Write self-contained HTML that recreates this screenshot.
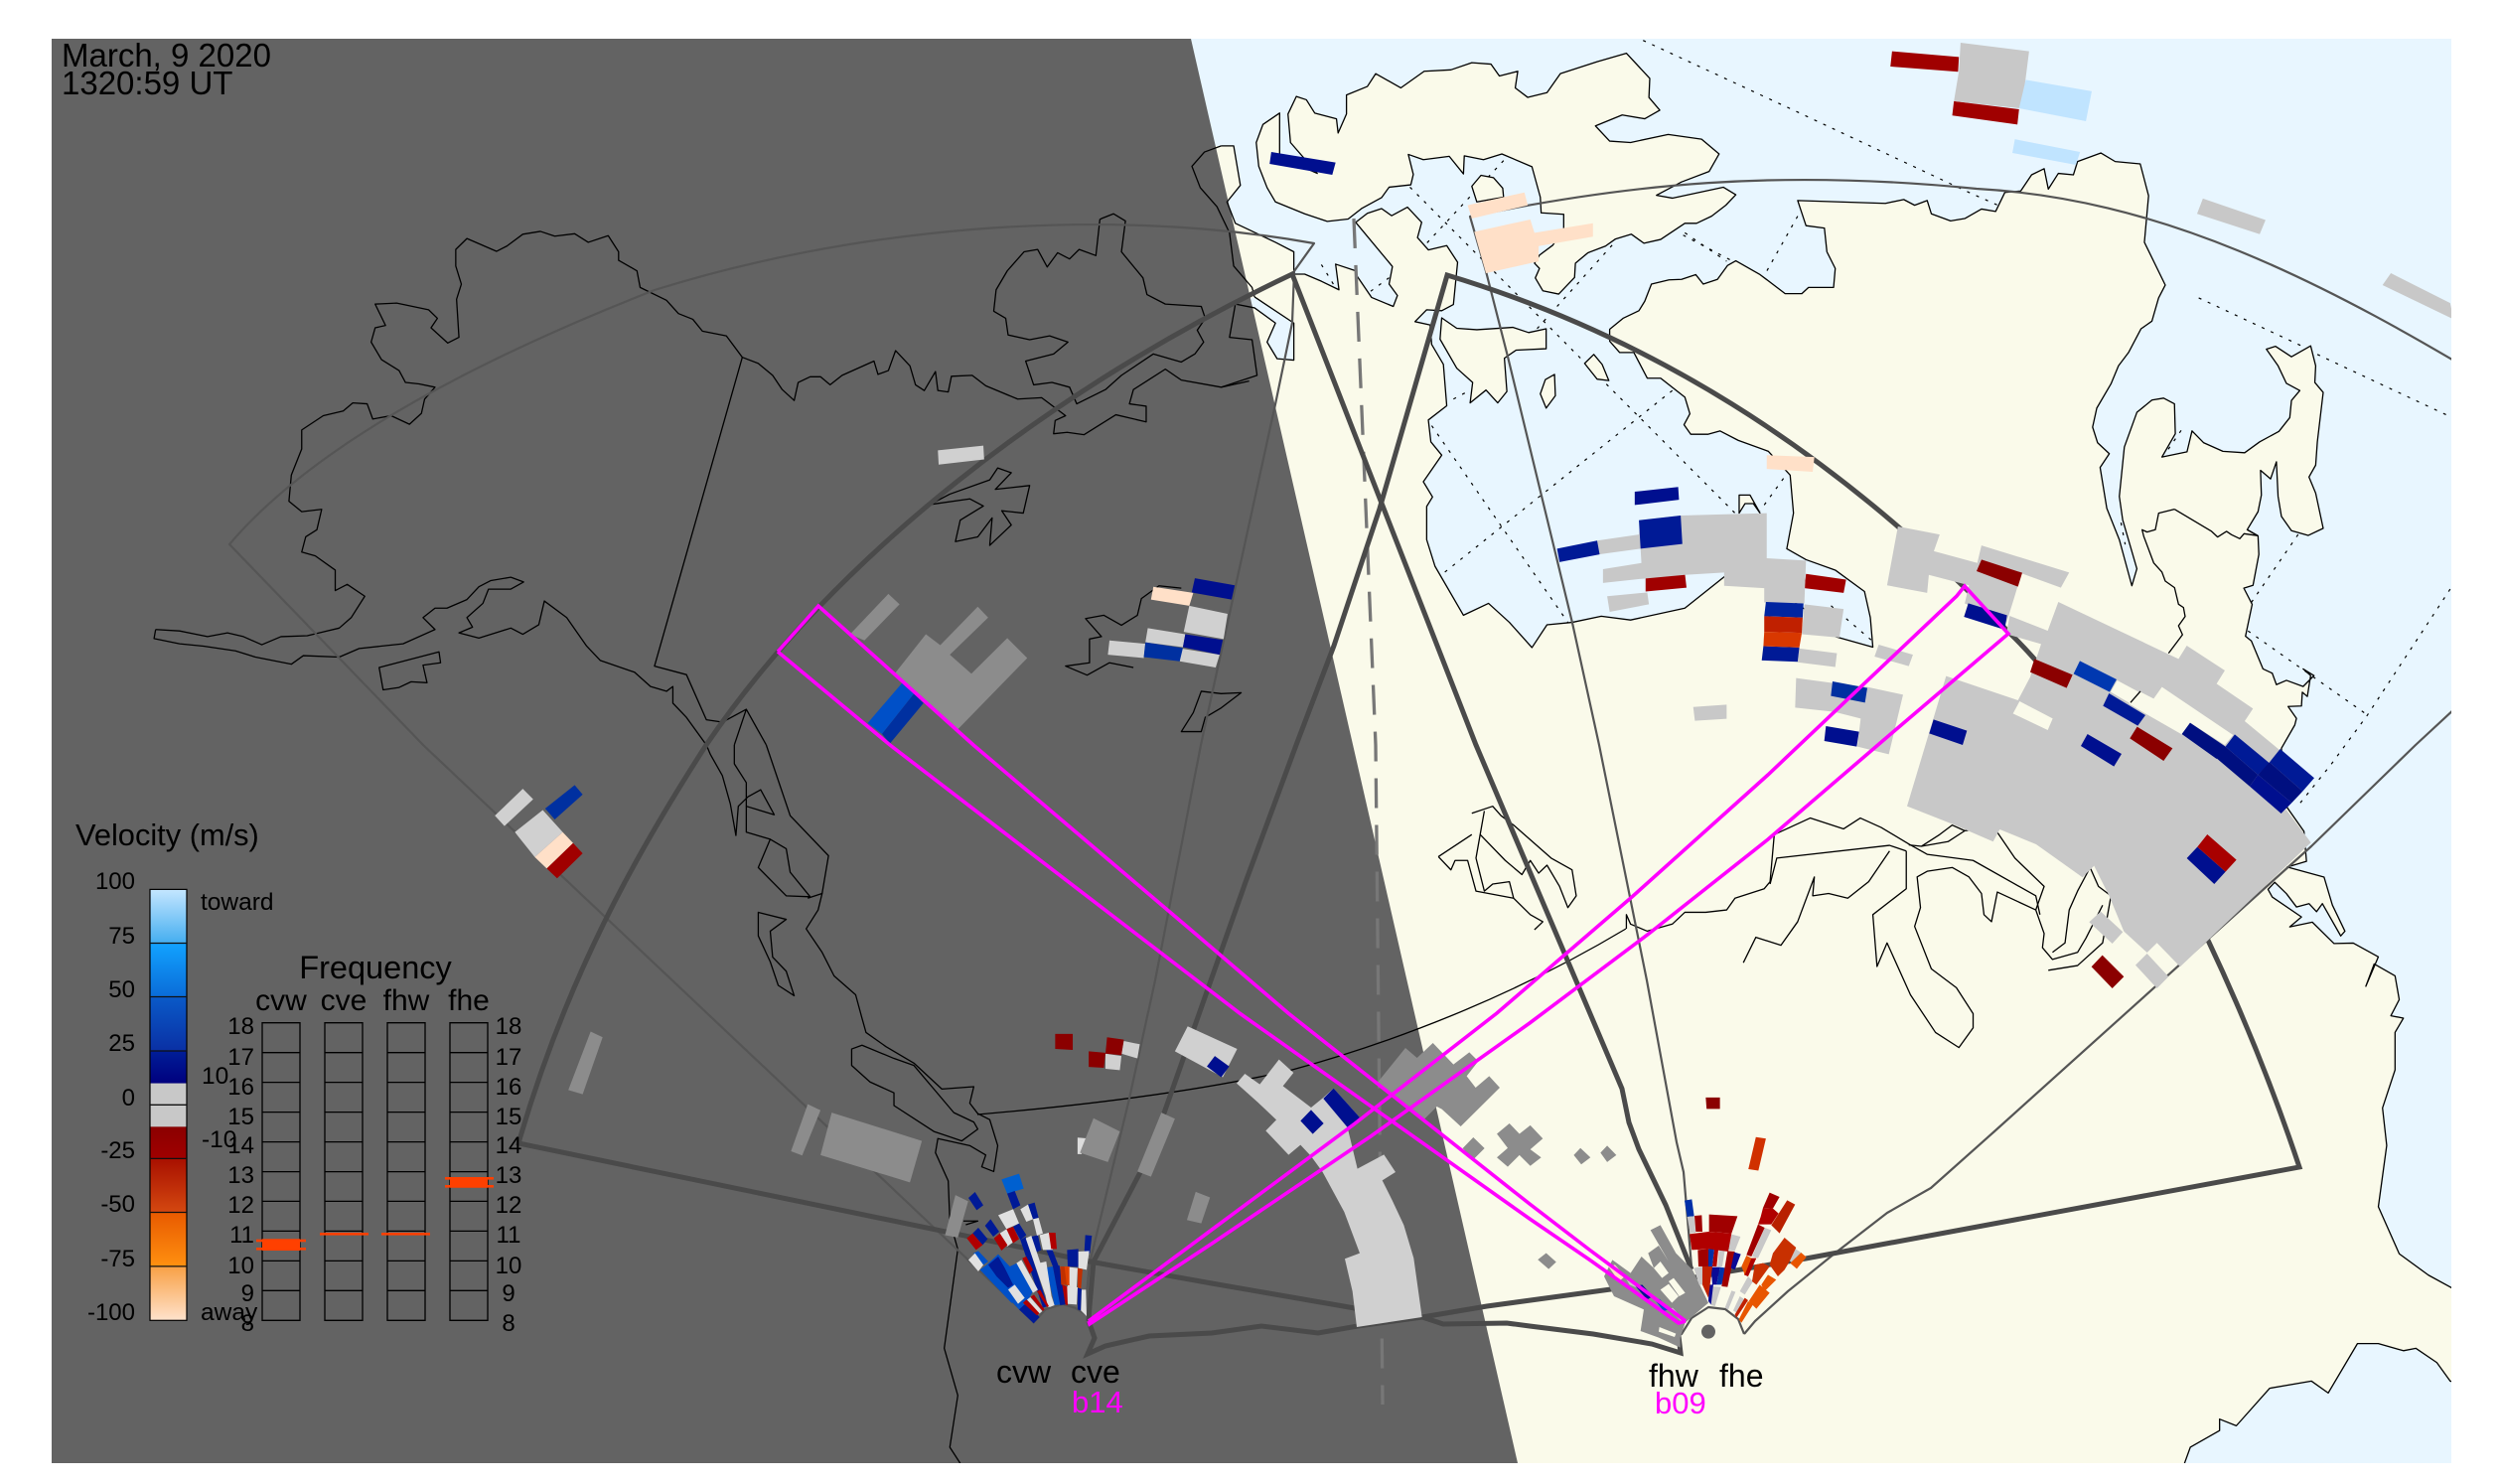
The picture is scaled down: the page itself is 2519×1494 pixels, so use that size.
<!DOCTYPE html>
<html><head><meta charset="utf-8"><title>Velocity map</title>
<style>
html,body{margin:0;padding:0;background:#fff}
svg{display:block}
path,polyline,line{vector-effect:non-scaling-stroke}
text{font-family:"Liberation Sans",sans-serif;fill:#000}
.c{fill:none;stroke:#000;stroke-width:1.3;stroke-linejoin:round}
.g{fill:none;stroke:#000;stroke-width:1.2;stroke-dasharray:3 7}
.t{fill:none;stroke:#4a4a4a;stroke-width:5;stroke-linejoin:miter}
.h{fill:none;stroke:#555;stroke-width:2.2;stroke-linejoin:round}
.m{fill:none;stroke:#f0f;stroke-width:3.6;stroke-linejoin:miter}
.o{fill:#ff4000}
</style></head><body>
<svg xmlns="http://www.w3.org/2000/svg" width="2519" height="1494" viewBox="0 0 2519 1494">
<defs>
<clipPath id="plot"><rect x="52" y="39" width="2416" height="1434"/></clipPath>
<path id="ocean" d="M35 307L50 307 58 390 42 425 52 470 100 510 122 530 122 577 135 577 155 592 176 610 172 556 196 570 198 582 215 626 241 645 246 622 236 598 240 561 196 468 210 449 227 439 239 454 258 436 275 468 270 500 283 526 305 517 318 552 313 641 299 654 281 652 267 677 285 684 287 725 301 767 305 854 283 884 286 930 299 958 277 1014 288 1046 281 1066 281 1136 291 1192 325 1295 355 1270 380 1310 407 1363 425 1315 455 1310 490 1297 525 1305 590 1280 640 1210 690 1230 740 1290 770 1340 815 1362 812 1300 805 1245 770 1200 735 1178 712 1155 720 1080 716 1000 690 950 654 927 632 907 618 914 597 914 589 894 596 871 590 836 561 796 545 796 529 742 512 742 500 718 500 693 516 670 535 654 542 634 550 598 571 589 586 588 603 578 612 598 629 588 641 559 651 549 680 578 710 618 730 618 738 605 768 605 770 565 760 530 757 480 735 475 725 422 830 428 852 420 865 432 880 422 885 450 908 465 925 460 945 440 962 445 973 405 992 402 1005 368 1020 355 1025 398 1037 365 1055 368 1060 340 1088 322 1105 340 1135 345 1145 412 1140 510 1165 600 1157 627 1149 676 1136 692 1121 742 1109 770 1100 808 1083 859 1078 899 1084 932 1098 955 1087 984 1095 1070 1110 1136 1125 1233 1131 1197 1114 1094 1110 1045 1116 941 1131 868 1149 842 1163 838 1176 850 1177 913 1161 962 1191 951 1197 907 1211 932 1234 950 1260 953 1278 930 1301 908 1314 879 1316 843 1326 822 1310 807 1300 770 1286 735 1297 729 1316 751 1339 728 1345 770 1344 805 1354 826 1347 930 1345 979 1337 1004 1345 1038 1354 1112 1336 1127 1316 1117 1304 1087 1300 1045 1298 972 1291 1008 1279 990 1280 1042 1276 1077 1263 1115 1276 1128 1277 1167 1270 1232 1259 1238 1269 1272 1261 1339 1268 1349 1282 1408 1293 1417 1298 1441 1310 1432 1330 1445 1343 1422 1330 1408 1339 1422 1335 1466 1329 1457 1328 1486 1312 1487 1322 1512 1320 1526 1304 1575 1306 1630 1311 1700 1331 1750 1334 1813 1311 1825 1355 1846 1365 1905 1380 1960 1375 1970 1353 1902 1346 1919 1337 1902 1322 1909 1310 1881 1296 1857 1288 1872 1293 1888 1328 1930 1314 1951 1341 1941 1367 1986 1390 1985 1420 2014 1405 2076 1415 2029 1440 2054 1445 2104 1435 2138 1450 2143 1440 2173 1440 2252 1425 2332 1430 2411 1420 2540 1445 2639 1480 2684 1506 2709 1600 2808 1700 2808 1700 -100 -20 -100"/>
<path id="ocean2" d="M75 625L122 680 122 758 102 755 90 720 100 680 75 648 52 640"/>
<path id="ocean3" d="M1188 3100L1188 3080 1195 3046 1230 3011 1230 2987 1250 3001 1290 2922 1340 2907 1360 2932 1395 2828 1420 2828 1450 2843 1465 2838 1490 2868 1506 2907 1700 3000 1700 3100"/>
<g id="islands">
<path d="M105 238L85 262 77 300 80 350 90 395 100 425 135 450 162 466 187 461 203 439 227 416 236 394 262 389 265 367 259 325 277 336 308 329 325 366 326 328 349 336 371 324 407 351 417 415 418 448 445 451 445 481 432 516 416 537 410 554 416 565 411 585 420 612 439 619 458 584 459 554 474 532 495 518 507 503 526 493 541 512 561 504 590 470 604 470 622 455 639 432 651 410 636 394 575 417 556 411 586 383 619 361 631 324 610 293 570 283 525 300 500 297 483 265 515 242 542 250 560 232 547 205 548 165 520 112 485 130 441 155 425 195 402 205 387 185 390 150 368 160 358 135 335 132 310 147 278 150 250 185 220 155 210 182 185 200 185 240 175 280 173 250 147 238 137 210 125 203 115 240 118 300 150 365 105 330Z"/>
<path d="M299 669L317 691 341 694 384 689 403 700 424 692 424 734 388 737 374 754 377 824 366 848 352 821 333 848 336 805 317 775 297 714Z"/>
<path d="M470 765L481 746 491 767 499 801 485 798Z"/>
<path d="M423 799L434 788 435 833 424 859 417 829Z"/>
<path d="M335 392L346 369 361 374 372 396 373 415 341 425Z"/>
<path d="M655 1080L655 1042 668 1042 680 1080 672 1060 662 1060Z"/>
</g>
<linearGradient id="b1" x1="0" y1="0" x2="0" y2="1"><stop offset="0" stop-color="#c4e6ff"/><stop offset="1" stop-color="#45aef0"/></linearGradient>
<linearGradient id="b2" x1="0" y1="0" x2="0" y2="1"><stop offset="0" stop-color="#12a2ff"/><stop offset="1" stop-color="#0a6cd8"/></linearGradient>
<linearGradient id="b3" x1="0" y1="0" x2="0" y2="1"><stop offset="0" stop-color="#0a5ac8"/><stop offset="1" stop-color="#0a30a4"/></linearGradient>
<linearGradient id="b4" x1="0" y1="0" x2="0" y2="1"><stop offset="0" stop-color="#001e98"/><stop offset="1" stop-color="#00007e"/></linearGradient>
<linearGradient id="r1" x1="0" y1="0" x2="0" y2="1"><stop offset="0" stop-color="#8b0000"/><stop offset="1" stop-color="#a00000"/></linearGradient>
<linearGradient id="r2" x1="0" y1="0" x2="0" y2="1"><stop offset="0" stop-color="#a81000"/><stop offset="1" stop-color="#d44810"/></linearGradient>
<linearGradient id="r3" x1="0" y1="0" x2="0" y2="1"><stop offset="0" stop-color="#e85a00"/><stop offset="1" stop-color="#ff9010"/></linearGradient>
<linearGradient id="r4" x1="0" y1="0" x2="0" y2="1"><stop offset="0" stop-color="#f8a045"/><stop offset="1" stop-color="#ffe2cc"/></linearGradient>
</defs>

<g clip-path="url(#plot)">
<rect x="52" y="39" width="2416" height="1434" fill="#fafaea"/>
<g transform="translate(1200,0) scale(.8412,.4783)">
<clipPath id="oc"><use href="#ocean"/></clipPath>
<use href="#ocean" fill="#e8f6ff" stroke="none"/>
<use href="#ocean2" fill="#e8f6ff" stroke="none"/>
<use href="#ocean3" fill="#e8f6ff" stroke="none"/>
<polygon points="-80,-100 60,-100 35,307 0,307" fill="#e8f6ff"/>
<g clip-path="url(#oc)">
<path class="g" d="M261 394L654 1087M373 338L281 512M503 516L412 694M575 822L295 1215M287 896L450 1310M588 495L680 580M155 557L170 600M214 613L238 582M313 840L328 826M540 85L730 240 930 405 975 440M590 490L640 550M725 455L685 580M715 990L680 1075M1205 627L1328 728M1347 746L1506 877M1324 1125L1268 1268M1264 1328L1407 1505M1506 1240L1407 1505 1363 1610 1322 1700M1184 906L1165 955M1112 1100L1117 1146M765 1275L815 1350"/>
</g>
<use href="#islands" fill="#fafaea" stroke="none"/>
</g>

<polygon points="52,39 1199,39 1528,1473 52,1473" fill="#636363"/>

<g transform="translate(1200,0) scale(.8412,.4783)">
<use href="#ocean" class="c"/>
<use href="#ocean2" class="c"/>
<use href="#ocean3" class="c"/>
<use href="#islands" class="c"/>
<path class="c" d="M35 307L15 320 0 350 10 395 30 435 45 490 50 560 72 605 75 625M52 640L45 710 72 715 78 790 35 815"/>
</g>

<!-- west coast upper -->
<g transform="scale(.8036,.4783)">
<path class="c" d="M195 1325L193 1344 225 1355 255 1360 295 1370 320 1383 365 1398 380 1380 425 1383 450 1365 505 1355 545 1325 530 1300 545 1280 560 1280 585 1262 600 1235 615 1222 640 1215 656 1225 640 1240 612 1240 605 1270 585 1300 592 1320 575 1332 600 1343 640 1322 655 1335 675 1315 682 1265 710 1300 735 1360 752 1390 795 1415 815 1445 835 1455 843 1445 843 1480 860 1510 885 1568"/>
<path class="c" d="M195 1325L225 1328 260 1340 285 1332 305 1340 328 1357 352 1340 385 1338 425 1322 440 1300 457 1255 435 1230 420 1243 420 1200 395 1170 378 1162 383 1130 397 1115 403 1072 378 1077 362 1055 365 1000 378 945 378 905 405 875 430 865 442 848 460 850 467 882 490 875 513 893 528 870 532 840 545 815 525 808 508 805 500 780 478 757 465 720 470 690 483 685 470 640 497 638 537 652 548 670 540 690 561 722 575 710 572 630 578 598 571 560 571 525 585 502 622 529 635 518 655 493 677 487 695 497 720 492 737 510 762 496 775 530 775 548 798 570 802 605 835 632 850 660 868 672 880 697 910 707 930 752 950 765 968 790 980 820 995 843 1000 805 1015 793 1028 793 1040 810 1055 790 1095 760 1100 788 1113 780 1122 738 1140 770 1147 810 1158 822 1172 782 1175 822 1188 825 1192 792 1218 790 1235 812 1275 840 1305 837 1335 875 1322 885 1320 913 1337 910 1358 915 1398 873 1436 888 1436 855 1415 850 1420 820 1460 777 1480 800 1530 815 1565 802"/>
<path class="c" d="M930 752L820 1402 860 1420 885 1515 905 1520 935 1493 960 1568M935 1493L920 1568"/>
<path class="c" d="M475 1405L550 1372 552 1395 530 1400 535 1437 515 1435 500 1447 480 1452Z"/>
<path class="c" d="M1380 460L1395 450 1410 465 1405 530 1432 585 1437 620 1460 640 1505 645 1510 670 1500 695 1508 720 1497 745 1480 762 1445 745 1405 790 1385 820 1349 850 1340 815 1318 805 1295 810 1285 760 1320 745 1338 720 1315 707 1290 715 1263 705 1260 670 1245 655 1248 610 1262 570 1283 530 1300 525 1312 562 1325 532 1340 545 1352 525 1373 538 1378 462Z"/>
<path class="c" d="M1250 985L1267 995 1247 1030 1290 1022 1282 1080 1255 1075 1267 1105 1240 1148 1243 1090 1225 1130 1197 1140 1203 1095 1232 1065 1215 1050 1165 1062 1190 1040 1240 1010Z"/>
<path class="c" d="M1480 1238L1452 1233 1430 1260 1425 1295 1405 1316 1383 1295 1360 1302 1380 1340 1365 1345 1365 1395 1335 1402 1362 1421 1390 1395 1420 1405"/>
<path class="c" d="M1480 1540L1495 1500 1505 1455 1530 1460 1555 1458 1530 1490 1510 1510 1505 1540Z"/>
</g>
<!-- west coast lower -->
<g transform="translate(0,750) scale(.8036,.4745)">
<path class="c" d="M885 0L890 20 905 65 915 125 922 192 925 130 937 110 953 95 970 148 935 130 935 185 965 200"/>
<path class="c" d="M920 0L920 40 935 80 935 130M960 0L968 40 990 150 1038 235 1030 315 1012 325"/>
<path class="c" d="M965 200L985 220 990 270 1015 322 985 320 950 260Z"/>
<path class="c" d="M1030 315L1025 350 1010 390 1030 440 1045 490 1072 530 1080 580 1085 610 1110 640 1145 675 1180 730 1220 725 1215 760 1225 782 1240 795 1250 850 1245 905 1230 895 1235 870 1215 850 1175 835 1172 865 1188 925 1190 1010 1200 1070 1183 1280 1200 1380 1190 1490 1203 1524"/>
<path class="c" d="M950 355L985 370 965 395 968 450 985 480 995 532 975 510 965 460 950 405Z"/>
<path class="c" d="M1067 645L1080 637 1120 665 1145 680 1170 730 1195 780 1220 800 1225 815 1205 840 1170 820 1120 765 1120 738 1090 715 1067 680Z"/>
<path class="c" d="M1207 1010L1225 1010 1210 1018"/>
</g>
<!-- border and great lakes -->
<path class="c" d="M984 1122C1100 1112 1210 1098 1301 1077C1400 1050 1520 1005 1637 935"/>
<g transform="translate(1200,750) scale(.8412,.4745)">
<path class="c" d="M520 390L520 360 525 380 545 395 575 380 590 355 615 355 640 350 650 325 685 305 692 290 697 190 740 155 780 178 800 155 825 175 858 210 880 232 935 245 1010 320 1015 360"/>
<path class="c" d="M692 295L700 240 835 213 855 225M660 462L675 408 705 425 725 375 745 280 743 320 762 315 785 325 810 290 835 225"/>
<path class="c" d="M858 212L873 215 905 205 925 182 910 170 895 190 873 215"/>
<path class="c" d="M855 225L855 305 815 360 820 470 832 420 860 530 890 610 918 642 935 600 935 570 915 515 885 475 865 385 872 345 868 280 880 268 910 260 930 280 945 315 948 360 957 375 964 312 1010 350 1020 400 1018 430 1030 455 1060 440 1070 410 1090 340"/>
<path class="c" d="M925 182L960 175 985 240 1020 300 1010 350M1025 478L1060 468 1090 420 1100 320 1085 300 1075 260 1060 310 1050 350 1045 420 1030 440"/>
<path class="c" d="M335 145L360 130 370 150 385 170 430 240 455 265 460 320 450 345 440 300 425 255 415 272 405 245 395 275 375 245 345 190 350 140"/>
<path class="c" d="M295 237L310 265 315 245 330 245 340 310 385 325 380 290 360 295 350 310 340 240 345 190M295 237L335 190M385 325L405 360 420 375 410 392"/>
</g>
<g transform="translate(2050,300) scale(.3333)">
<path class="c" d="M638 700L670 718M418 638L370 650 360 700 335 707 320 700 325 720 355 800 380 828 390 855 418 875 430 925 445 935 450 962 430 990 442 1017 400 1073M418 638L530 705 548 722 575 705 590 715 615 727 628 712 670 718"/>
</g>

<!-- dashed line -->
<polyline fill="none" stroke="#777" stroke-width="3.3" stroke-dasharray="30 17" points="1363,220 1385,750 1392,1414"/>

<!-- FOV outlines -->
<path class="h" d="M1041 1331L968 1262 426 750 231 548C310 455 460 370 659 292C850 232 1100 205 1323 245L1303 273 1301 325 1284 407 1209 750 1163 987 1137 1106 1097 1272 1092 1323"/>
<polyline class="h" points="1040,1332 1053,1318 1070,1313 1083,1317 1093,1323"/>
<polyline class="h" points="1756,1343 1767,1330 1800,1300 1847,1262 1900,1221 1944,1196 2008,1139 2327,852 2432,750 2540,650"/>
<path class="h" d="M2540 405C2330 275 2170 200 1990 190C1790 170 1640 185 1480 218L1496 273 1518 359 1583 627 1610 750 1658 987 1688 1150 1695 1180 1703 1275"/>
<polyline class="h" points="1690,1345 1693,1343 1703,1327 1720,1316 1737,1318 1750,1328 1756,1343"/>
<path class="t" d="M1690 1345L1692 1362 1663 1353 1604 1343 1540 1335 1517 1332 1453 1333 1432 1326 1364 1317 1220 1292 1097 1270 522 1151C570 985 640 860 711 750C840 560 1060 390 1301 276L1486 750 1633 1096 1640 1130 1650 1157 1677 1213 1703 1278"/>
<path class="t" d="M1096 1330L1102 1347 1095 1363 1113 1355 1157 1345 1220 1342 1270 1335 1327 1342 1367 1335 1432 1326 1497 1315 1688 1289 1818 1267 2315 1175C2240 950 2120 730 2023 637C1840 445 1650 335 1457 277L1389 512 1343 650 1305 750 1254 888 1157 1163 1101 1270 1097 1315 1096 1330"/>

<!-- data cells: Z1 -->
<g transform="scale(.8036,.4783)">
<path fill="#d0d0d0" d="M1175 948L1232 938 1233 967 1176 978ZM1490 1275L1538 1292 1533 1345 1483 1330ZM1438 1322L1485 1335 1482 1362 1435 1352ZM1390 1348L1435 1355 1433 1385 1388 1378ZM1480 1365L1528 1378 1523 1405 1478 1392Z"/>
<path fill="#8c8c8c" d="M1113 1250L1127 1272 1083 1348 1065 1335ZM1120 1420L1160 1335 1178 1358 1225 1277 1238 1300 1190 1378 1217 1418 1262 1343 1287 1385 1200 1535 1157 1470Z"/>
<path fill="#0050c8" d="M1130 1438L1145 1460 1105 1545 1087 1522Z"/>
<path fill="#0030a0" d="M1145 1460L1157 1480 1115 1565 1105 1545ZM1435 1352L1482 1364 1478 1392 1433 1383Z"/>
<path fill="#000f8f" d="M1497 1217L1547 1232 1543 1262 1493 1247ZM1485 1335L1532 1347 1528 1378 1482 1362Z"/>
<path fill="#ffe0c8" d="M1445 1235L1495 1248 1490 1275 1442 1262Z"/>
</g>
<!-- Z3 -->
<g transform="translate(0,750) scale(.8036,.4745)">
<path fill="#d0d0d0" d="M655 93L668 115 632 172 620 150ZM680 138L705 185 670 238 645 185ZM1488 597L1550 645 1532 705 1472 650ZM1408 628L1428 635 1425 665 1405 655ZM1385 655L1405 660 1403 690 1385 687Z"/>
<path fill="#0030a0" d="M720 85L730 105 695 158 683 135Z"/>
<path fill="#ffe0c8" d="M705 185L718 208 685 262 670 238Z"/>
<path fill="#a00000" d="M718 208L730 230 698 283 685 262Z"/>
<path fill="#ddd" d="M1350 833L1365 835 1355 868 1350 868Z"/>
<path fill="#8c8c8c" d="M740 608L755 620 730 741 712 732ZM1012 762L1028 775 1005 871 991 862ZM1042 780L1155 840 1140 928 1028 870ZM1197 955L1213 968 1200 1045 1184 1040ZM1370 792L1403 820 1388 885 1353 865ZM1455 780L1472 793 1442 916 1425 905ZM1498 948L1516 960 1505 1015 1487 1008Z"/>
<path fill="#8b0000" d="M1322 613L1344 613 1344 647 1322 645ZM1387 620L1408 625 1405 658 1385 655ZM1364 650L1385 653 1383 685 1364 683Z"/>
<path fill="#000f8f" d="M1522 660L1540 682 1530 705 1512 682Z"/>
</g>
<!-- arc band in dark region -->
<g transform="translate(1220,1020) scale(.3333)">
<path fill="#d0d0d0" d="M75 212L100 183 145 215 203 140 247 180 215 220 300 285 337 255 368 227 447 315 410 345 440 470 520 427 555 480 515 505 545 565 580 640 610 740 635 918 438 948 425 840 402 742 447 725 400 600 335 480 300 432 268 398 232 428 163 355 195 322 140 270Z"/>
<path fill="#000f8f" d="M368 227L447 315 410 345 337 258ZM300 292L338 333 305 365 268 325Z"/>
<path fill="#8c8c8c" d="M500 210L585 105 620 135 668 90 730 155 778 118 805 145 770 190 797 225 838 190 870 225 752 342 695 290 680 282 640 322 545 245ZM790 375L824 408 790 442 758 408Z"/>
</g>
<!-- Z4 -->
<g transform="translate(1200,750) scale(.8412,.4745)">
<path fill="#8c8c8c" d="M380 803L392 825 405 807 420 835 405 858 418 875 405 893 392 870 378 895 365 875 378 855 365 825ZM465 855L477 875 466 890 457 870ZM497 850L508 870 497 885 489 865ZM424 1078L436 1097 427 1112 414 1092Z"/>
<path fill="#8b0000" d="M615 748L632 748 632 772 616 772Z"/>
<path fill="#d03000" d="M675 832L687 835 678 903 666 900Z"/>
</g>
<!-- Z2 -->
<g transform="translate(1200,0) scale(.8412,.4783)">
<path fill="#000f8f" d="M95 320L172 342 168 368 93 345ZM530 1035L582 1025 583 1052 530 1063Z"/>
<path fill="#ffe0c8" d="M330 432L398 405 402 432 335 460ZM338 488L405 462 410 490 480 470 480 498 415 518 415 550 352 575ZM688 958L745 962 743 993 688 987Z"/>
<path fill="#a00000" d="M838 108L918 120 917 151 836 140ZM912 213L990 230 988 262 910 243ZM543 1217L590 1207 592 1237 543 1245ZM735 1208L783 1220 780 1248 733 1238Z"/>
<path fill="#c8c8c8" d="M920 90L1002 108 995 205 990 228 912 213 918 150ZM1210 418L1285 463 1278 493 1203 450ZM1435 575L1506 638 1510 672 1425 600ZM537 1095L585 1085 688 1080 688 1175 735 1180 733 1270 685 1268 685 1238 637 1233 637 1205 590 1210 540 1218 492 1227 492 1198 538 1185 537 1155 487 1167 485 1138 535 1125ZM497 1255L545 1247 547 1272 500 1288ZM733 1272L780 1282 775 1342 730 1335ZM727 1365L772 1375 770 1404 725 1394ZM822 1357L863 1378 858 1402 817 1382ZM600 1488L640 1483 640 1513 602 1517ZM845 1108L895 1125 888 1160 940 1185 945 1148 1050 1205 1040 1237 993 1207 983 1265 975 1310 925 1270 930 1232 882 1210 880 1248 832 1232Z"/>
<path fill="#c0e4ff" d="M998 168L1077 192 1070 255 990 228ZM985 293L1063 320 1058 347 982 322Z"/>
<path fill="#001a96" d="M437 1155L485 1138 488 1167 440 1183ZM535 1095L585 1085 587 1145 537 1155ZM684 1360L727 1363 725 1393 682 1390Z"/>
<path fill="#0025a0" d="M687 1267L732 1270 731 1300 685 1297Z"/>
<path fill="#c02000" d="M685 1297L731 1300 730 1332 685 1330Z"/>
<path fill="#d83800" d="M685 1330L730 1332 727 1363 684 1360Z"/>
</g>
<!-- cluster near beam -->
<g transform="translate(1780,600) scale(.3333)">
<path fill="#c8c8c8" d="M85 248L190 262 300 275 408 298 365 478 270 455 280 370 200 350 82 337Z"/>
<path fill="#0030a0" d="M195 258L300 278 293 322 190 302Z"/>
<path fill="#000f8f" d="M175 393L275 410 268 455 170 438Z"/>
</g>
<!-- Z8 east region -->
<g transform="translate(1900,560) scale(.3333)">
<path fill="#c8c8c8" d="M178 362L395 435 432 365 465 265 360 235 370 180 485 225 517 138 880 310 905 270 1020 345 995 385 1105 460 1080 498 1185 585 1290 670 1190 775 1205 765 1280 865 885 1240 815 1168 785 1197 715 1133 670 1025 625 935 590 970 450 870 340 825 320 862 200 810 60 755ZM645 1073L712 1135 680 1170 610 1105ZM750 1235L785 1200 850 1270 815 1305Z"/>
<path fill="#fafaea" d="M695 375L760 410 735 445 675 410ZM730 445L765 410 805 430 830 395 1045 540 1020 570 915 503 890 538 780 475ZM400 438L500 490 485 525 380 475Z"/>
<path class="c" d="M735 442L765 408"/>
<path fill="#8b0000" d="M270 45L285 10 408 50 395 92ZM445 310L560 358 542 398 432 350ZM755 515L862 580 835 618 733 550ZM650 1205L715 1270 680 1305 617 1240Z"/>
<path fill="#000f8f" d="M245 142L362 178 355 222 232 183ZM140 493L241 527 228 570 127 535ZM605 537L708 597 685 635 585 573ZM1120 660L1222 745 1190 777 1095 695ZM937 878L1022 953 988 990 905 912Z"/>
<path fill="#0038b0" d="M582 316L693 372 672 410 563 355Z"/>
<path fill="#001a96" d="M670 414L780 480 757 512 652 452ZM1050 538L1155 625 1120 660 1022 575ZM1187 582L1290 670 1255 710 1155 622Z"/>
<path fill="#000f80" d="M915 503L1022 575 995 612 890 537ZM1022 575L1120 660 1095 695 995 610ZM1155 622L1255 710 1222 745 1120 660Z"/>
<path fill="#a80000" d="M967 840L1055 917 1022 953 937 878Z"/>
</g>

<!-- cvw / cve fan -->
<g transform="translate(940,1130) scale(.3333)">
<path fill="#0050c8" d="M140 445L160 430 195 398 230 435 262 420 300 510 280 545 235 545ZM120 395L135 388 165 420 150 430ZM235 540L255 525 285 565 258 565ZM340 438L360 435 382 550 365 552Z"/>
<path fill="#0060d0" d="M205 172L258 155 272 200 222 215Z"/>
<path fill="#001a96" d="M222 215L245 207 262 250 240 262ZM105 228L125 210 150 250 130 265ZM285 248L305 242 317 288 300 292ZM155 312L172 292 198 330 180 345ZM118 335L135 318 163 352 148 370ZM240 315L258 305 280 340 262 355ZM165 430L195 405 215 440 190 465ZM190 465L215 440 240 490 225 500ZM258 565L280 545 320 588 302 607ZM295 345L315 340 325 385 305 395ZM403 385L437 382 437 437 405 435ZM458 340L478 342 472 395 455 392ZM360 435L380 432 398 550 382 552ZM340 385L358 383 378 435 360 435ZM435 500L447 503 444 568 435 565ZM262 355L278 345 345 555 330 560Z"/>
<path fill="#e0e0e0" d="M105 415L125 395 150 430 135 450ZM195 280L240 262 258 305 220 322ZM262 262L285 248 300 292 280 300ZM300 292L317 288 330 335 312 342ZM200 335L220 322 240 362 222 375ZM320 340L348 333 360 385 330 385ZM225 505L245 490 275 530 255 548ZM278 350L295 342 365 552 350 558ZM318 425L340 420 360 552 345 558ZM437 390L470 388 462 445 437 440ZM408 437L435 440 432 498 405 495ZM402 495L435 498 432 550 402 548ZM447 505L460 505 462 585 445 568ZM250 425L265 415 315 505 300 515Z"/>
<path fill="#b00000" d="M100 350L118 335 148 370 128 385ZM182 350L200 335 223 370 205 387ZM220 322L240 315 258 352 240 365ZM348 333L368 333 372 382 355 382ZM268 410L280 405 300 445 290 458ZM270 545L280 535 320 575 312 583ZM293 527L303 520 335 565 330 570ZM312 510L322 505 348 555 342 558ZM388 490L403 495 405 552 398 550Z"/>
<path fill="#c03000" d="M382 435L395 435 410 492 385 490ZM435 440L450 443 445 502 435 498Z"/>
<path fill="#e04000" d="M395 435L410 435 410 492 402 490Z"/>
<path fill="#e0e0e0" d="M282 535L292 528 328 570 320 577Z"/>
</g>

<!-- fhw / fhe fan -->
<g transform="translate(1600,1130) scale(.3333)">
<path fill="#8c8c8c" d="M75 525L45 465 70 415 125 455 158 405 195 440 178 395 210 372 240 420 185 325 215 310 262 395 312 445 360 545 290 605 275 650 275 680 210 650 155 630 165 565Z"/>
<path fill="#fafaea" d="M215 505L240 488 270 525 250 545ZM240 480L255 470 290 515 272 525ZM212 618L262 638 258 648 210 632ZM195 440L215 420 240 455 220 470Z"/>
<path fill="#ffe0c8" d="M58 435L78 430 108 465 90 480Z"/>
<path fill="#c8c8c8" d="M105 462L125 470 145 500 122 490ZM240 565L252 560 290 600 280 602Z"/>
<path fill="#000f8f" d="M140 495L160 490 192 525 175 535Z"/>
<path fill="#0050c8" d="M190 525L215 535 240 565 225 570Z"/>
<path fill="#0030a8" d="M288 236L310 232 317 283 296 285ZM360 382L378 382 372 435 358 435ZM395 437L415 440 400 490 385 490Z"/>
<path fill="#c8c8c8" d="M296 285L317 283 322 333 305 335ZM392 385L410 385 402 435 388 435ZM430 338L457 345 440 388 420 385ZM316 440L342 435 342 490 332 490ZM530 318L550 325 510 410 492 405ZM620 380L640 393 615 425 597 412ZM480 465L495 480 470 520 455 510ZM430 508L442 512 420 565 410 560ZM455 525L470 535 445 575 435 568ZM372 495L398 497 380 555 368 552Z"/>
<path fill="#a00000" d="M318 282L340 280 342 330 322 330ZM362 278L448 283 430 335 362 330ZM328 385L360 382 360 435 330 435ZM418 388L440 390 418 497 400 495ZM545 212L575 225 555 260 525 258ZM510 308L530 318 490 405 475 400Z"/>
<path fill="#b00000" d="M303 337L360 330 430 335 420 390 362 382 310 385ZM378 382L390 385 385 435 372 435ZM525 258L555 260 572 275 550 308 510 308 518 285ZM475 410L505 410 480 465 468 460Z"/>
<path fill="#0a0a96" d="M438 392L458 398 440 445 428 440ZM368 437L395 437 385 490 372 490ZM362 490L375 490 368 550 360 540Z"/>
<path fill="#c02000" d="M342 435L372 435 360 530 342 490ZM470 530L480 537 445 590 440 580Z"/>
<path fill="#b82000" d="M598 235L622 248 575 335 550 310Z"/>
<path fill="#c83000" d="M590 348L625 378 605 420 590 445 570 465 545 430 555 395ZM500 430L525 425 545 435 505 490 492 480Z"/>
<path fill="#e85500" d="M460 435L475 402 490 410 470 460ZM640 393L656 407 627 442 607 425ZM515 490L545 515 505 563 482 540ZM540 460L565 475 530 510 520 490ZM480 540L495 550 460 605 452 595Z"/>
<circle cx="360" cy="632" r="21" fill="#636363"/>
</g>

<!-- magenta beams -->
<polyline class="m" points="783,656 824,610 980,750 1200,937 1297,1020 1540,1212 1600,1258 1697,1330"/>
<polyline class="m" points="783,656 896,750 1248,1020 1540,1227 1600,1268 1690,1332 1697,1330"/>
<polyline class="m" points="1096,1330 1220,1238 1363,1132 1507,1020 1643,903 1780,780 1970,600 1978,590 2022,638 1900,742 1780,845 1660,940 1540,1030 1380,1144 1220,1252 1097,1333 1096,1330"/>
</g>

<!-- Header text -->
<text x="62" y="67" font-size="33">March, 9 2020</text>
<text x="62" y="95" font-size="33">1320:59 UT</text>

<!-- Colour bar -->
<text x="76" y="851" font-size="30.8">Velocity (m/s)</text>
<rect x="151" y="895.4" width="37" height="54.1" fill="url(#b1)"/>
<rect x="151" y="949.5" width="37" height="54" fill="url(#b2)"/>
<rect x="151" y="1003.5" width="37" height="54.5" fill="url(#b3)"/>
<rect x="151" y="1058" width="37" height="32.6" fill="url(#b4)"/>
<rect x="151" y="1090.6" width="37" height="43.8" fill="#c8c8c8"/>
<rect x="151" y="1134.4" width="37" height="32" fill="url(#r1)"/>
<rect x="151" y="1166.4" width="37" height="54.1" fill="url(#r2)"/>
<rect x="151" y="1220.5" width="37" height="54.4" fill="url(#r3)"/>
<rect x="151" y="1274.9" width="37" height="54.4" fill="url(#r4)"/>
<rect x="151" y="895.4" width="37" height="433.9" fill="none" stroke="#000" stroke-width="1.2"/>
<path d="M151 949.5H188M151 1003.5H188M151 1058H188M151 1112.3H188M151 1166.4H188M151 1220.5H188M151 1274.9H188" stroke="#111" stroke-width="1.3" fill="none"/>
<g font-size="24" text-anchor="end">
<text x="136" y="895">100</text><text x="136" y="950">75</text><text x="136" y="1004">50</text><text x="136" y="1058">25</text><text x="136" y="1113">0</text><text x="136" y="1166">-25</text><text x="136" y="1220">-50</text><text x="136" y="1275">-75</text><text x="136" y="1329">-100</text>
</g>
<g font-size="24.5">
<text x="202" y="916">toward</text><text x="202" y="1329">away</text>
<text x="203" y="1091">10</text><text x="203" y="1155">-10</text>
</g>

<!-- Frequency panel -->
<text x="378" y="985" font-size="32.5" text-anchor="middle">Frequency</text>
<g font-size="30" text-anchor="middle">
<text x="283" y="1017">cvw</text><text x="346" y="1017">cve</text><text x="409" y="1017">fhw</text><text x="472" y="1017">fhe</text>
</g>
<g fill="none" stroke="#000" stroke-width="1.3">
<path d="M264 1029.7H302V1329.3H264ZM264 1059.7H302M264 1089.6H302M264 1119.6H302M264 1149.6H302M264 1179.6H302M264 1209.4H302M264 1239.4H302M264 1269.4H302M264 1299.3H302"/>
<path d="M327 1029.7H365V1329.3H327ZM327 1059.7H365M327 1089.6H365M327 1119.6H365M327 1149.6H365M327 1179.6H365M327 1209.4H365M327 1239.4H365M327 1269.4H365M327 1299.3H365"/>
<path d="M390 1029.7H428V1329.3H390ZM390 1059.7H428M390 1089.6H428M390 1119.6H428M390 1149.6H428M390 1179.6H428M390 1209.4H428M390 1239.4H428M390 1269.4H428M390 1299.3H428"/>
<path d="M453 1029.7H491V1329.3H453ZM453 1059.7H491M453 1089.6H491M453 1119.6H491M453 1149.6H491M453 1179.6H491M453 1209.4H491M453 1239.4H491M453 1269.4H491M453 1299.3H491"/>
</g>
<rect class="o" x="264" y="1247.3" width="38" height="11.7"/>
<rect class="o" x="258" y="1247.7" width="50" height="2.6"/>
<rect class="o" x="258" y="1256" width="50" height="2.6"/>
<rect class="o" x="322" y="1241" width="49" height="2.6"/>
<rect class="o" x="384" y="1241" width="49" height="2.6"/>
<rect class="o" x="453" y="1185.3" width="38" height="10.4"/>
<rect class="o" x="448" y="1185" width="49" height="2.6"/>
<rect class="o" x="448" y="1193" width="49" height="2.6"/>
<g font-size="24" text-anchor="end">
<text x="256" y="1041">18</text><text x="256" y="1072">17</text><text x="256" y="1102">16</text><text x="256" y="1132">15</text><text x="256" y="1161">14</text><text x="256" y="1191">13</text><text x="256" y="1221">12</text><text x="256" y="1251">11</text><text x="256" y="1282">10</text><text x="256" y="1310">9</text><text x="256" y="1340">8</text>
</g>
<g font-size="24" text-anchor="middle">
<text x="512" y="1041">18</text><text x="512" y="1072">17</text><text x="512" y="1102">16</text><text x="512" y="1132">15</text><text x="512" y="1161">14</text><text x="512" y="1191">13</text><text x="512" y="1221">12</text><text x="512" y="1251">11</text><text x="512" y="1282">10</text><text x="512" y="1310">9</text><text x="512" y="1340">8</text>
</g>

<!-- Radar labels -->
<g font-size="32">
<text x="1003" y="1392">cvw</text><text x="1078" y="1392">cve</text>
<text x="1660" y="1396">fhw</text><text x="1731" y="1396">fhe</text>
</g>
<g font-size="31">
<text x="1079" y="1422" style="fill:#f0f">b14</text>
<text x="1666" y="1423" style="fill:#f0f">b09</text>
</g>
</svg>
</body></html>
